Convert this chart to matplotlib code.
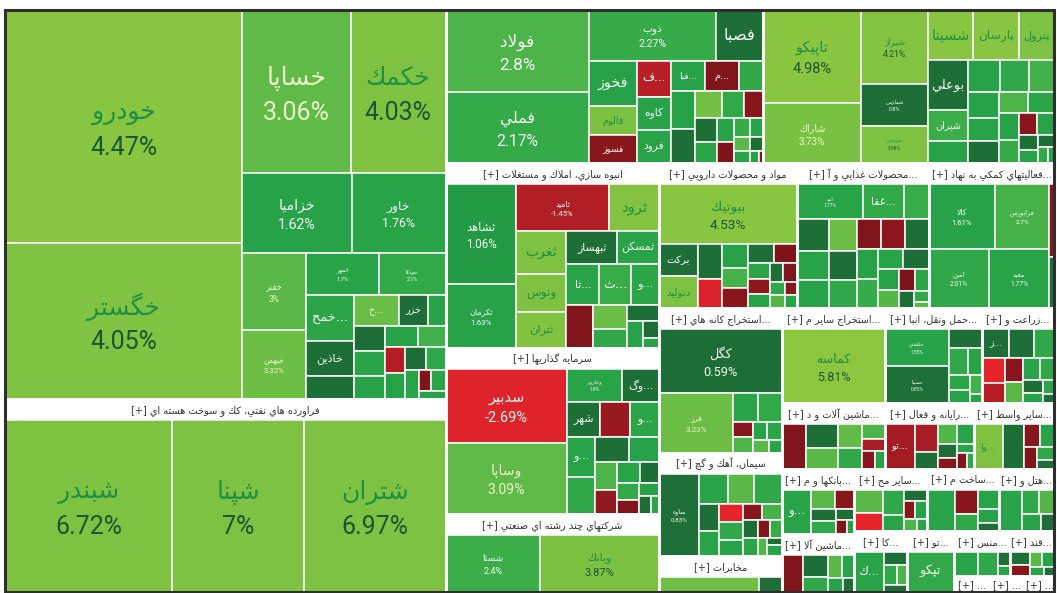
import numpy as np
import matplotlib
matplotlib.use("Agg")
import matplotlib.pyplot as plt
from matplotlib.patches import Rectangle
from matplotlib.colors import LinearSegmentedColormap

# ---------------- data ----------------
# sector headers as shown on the map ('...' = name cut), '' = header cropped away
sector_titles = [
    '', 'فراورده هاي نفتي، كك و سوخت هسته اي', '', '',
    'انبوه سازي، املاك و مستغلات', 'سرمايه گذاريها', 'شركتهاي چند رشته اي صنعتي',
    'مواد و محصولات دارويي', 'محصولات غذايي و آ...', 'فعاليتهاي كمكي به نهاد...',
    'استخراج كانه هاي...', 'سيمان، آهك و گچ', 'مخابرات',
    'استخراج ساير م...', 'حمل ونقل، انبا...', 'زراعت و...',
    'ماشين آلات و د...', 'رايانه و فعال...', 'ساير واسط...',
    'بانكها و م...', 'ماشين آلا...', 'ساير مح...', 'ساخت م...', 'هتل و...',
    'كا...', 'تو...', 'منس...', 'قند...', '...', '...', '...',
]
# sector market size (relative)
sector_sizes = [170.7, 84.9, 48.5, 44.4, 39.2, 35.4, 16.6, 19.9, 19.1, 18.1,
                17.6, 12.6, 4.4, 9.8, 9.2, 6.8, 6.7, 5.8, 5.2, 4.7, 4.2,
                4.5, 4.5, 3.4, 3.2, 2.9, 2.5, 2.0, 0.56, 0.56, 0.46]

# stocks: names, size, % change
auto_names = ['خودرو', 'خگستر', 'خساپا', 'خكمك', 'خزاميا', 'خاور', 'خفنر', 'خبهمن',
              'خمهر', 'خودكا', 'خمح...', 'خاذين', '', 'خ...', 'خزر', ''] + [''] * 13
auto_sizes = [55.2, 36.7, 17.6, 15.5, 8.7, 7.5, 4.85, 4.3, 3.07, 2.8, 2.16, 1.68, 1.1,
              1.35, 0.87, 0.54, 0.8, 0.8, 0.7, 0.7, 0.6, 0.5, 0.5, 0.5, 0.45, 0.4, 0.25, 0.3, 0.2]
auto_changes = [4.47, 4.05, 3.06, 4.03, 1.62, 1.76, 3.0, 3.32, 1.7, 2.1, 1.9, 0.8, 0.7,
                3.2, 0.7, 1.5, 0.6, 1.8, 1.6, 1.5, 2.6, -1.5, 1.4, 0.6, 2.0, 1.7, -0.4, 1.9, 1.6]

oil_names = ['شبندر', 'شپنا', 'شتران']
oil_sizes = [28.7, 22.7, 24.3]
oil_changes = [6.72, 7.0, 6.97]

metal_names = ['فولاد', 'فملي', 'ذوب', 'فصبا', 'فخوز', 'فالوم', 'فسوز', 'ف...', 'كاوه',
               'فرود', 'فبا...', 'م...', ''] + [''] * 16
metal_sizes = [11.5, 9.9, 6.25, 2.35, 2.1, 1.4, 1.3, 1.2, 1.1, 1.1, 1.0, 1.0, 0.72,
               0.9, 0.8, 0.7, 0.6, 0.5, 0.5, 0.45, 0.4, 0.35, 0.3, 0.25, 0.22, 0.2, 0.18, 0.1, 0.05]
metal_changes = [2.8, 2.17, 2.27, 0.7, 1.4, 3.8, -0.6, -1.6, 1.5, 1.7, 1.5, -0.5, 2.0,
                 1.4, 0.7, 3.5, 2.1, -0.6, 0.8, 1.9, 1.6, -0.4, 2.2, 1.5, 3.0, 1.8, 0.6, 1.3, -0.5]

chem_names = ['تاپيكو', 'شاراك', 'شيراز', 'شفارس', 'شپديس', 'شسينا', 'پارسان', 'پترول',
              'بوعلي', 'شيران', ''] + [''] * 17
chem_sizes = [9.0, 5.8, 4.9, 2.8, 2.5, 2.25, 2.25, 1.75, 2.0, 1.2, 0.9,
              1.0, 0.9, 0.8, 0.8, 0.7, 0.7, 0.6, 0.55, 0.5, 0.45, 0.4, 0.35, 0.3, 0.25, 0.2, 0.15, 0.1]
chem_changes = [4.98, 3.73, 4.21, 0.8, 3.98, 4.6, 4.6, 3.9, 0.7, 2.4, 1.6,
                1.5, 2.0, 2.6, 1.6, 1.8, 0.7, 2.8, 1.9, 1.4, 2.2, -0.6, 1.7, 0.8, 1.6, 0.6, 2.0, 1.5]

build_names = ['ثشاهد', 'ثكرمان', 'ثاميد', 'ثرود', 'ثغرب', 'وتوس', 'ثتران', 'ثبهساز',
               'ثمسكن', 'ثا...', 'ث...', 'و...'] + [''] * 7
build_sizes = [6.8, 4.3, 4.1, 2.25, 2.1, 1.8, 1.7, 1.65, 1.35, 1.3, 1.25, 1.1,
               1.1, 0.8, 0.6, 0.5, 0.4, 0.25, 0.15]
build_changes = [1.06, 1.63, -1.45, 4.2, 4.0, 4.0, 4.1, 0.8, 1.8, 1.7, 2.3, 1.9,
                 -0.5, 3.2, 2.0, 0.7, 1.6, 0.6, 1.8]

invest_names = ['سدبير', 'وساپا', 'وخارزم', 'وگ...', 'شهر', '', 'و...', 'و...'] + [''] * 12
invest_sizes = [8.6, 8.3, 1.8, 1.2, 1.1, 1.0, 0.95,
                1.1, 1.0, 0.8, 0.7, 0.6, 0.5, 0.45, 0.4, 0.35, 0.3, 0.25, 0.2, 0.15]
invest_changes = [-2.69, 3.09, 1.8, 0.7, 0.8, -1.0, 1.9,
                  1.7, 2.0, 0.7, 1.5, 2.8, -0.8, 1.8, 0.6, 2.1, -0.5, 1.6, 0.7, 1.9]

multi_names = ['شستا', 'وبانك']
multi_sizes = [92, 116]
multi_changes = [2.4, 3.87]

pharma_names = ['بيوتيك', 'بركت', 'دتوليد'] + [''] * 16
pharma_sizes = [8.0, 1.2, 1.2, 0.8, 0.7, 0.6, 0.5, 0.5, 0.45, 0.4, 0.35, 0.3, 0.3,
                0.25, 0.25, 0.2, 0.2, 0.15, 0.15]
pharma_changes = [4.53, 0.7, 3.9, 0.7, -2.5, 1.6, 2.7, -0.6, 0.8, -0.4, 1.9, -0.7, 1.5,
                  0.6, -0.5, 2.0, 2.9, -0.6, 1.7]

food_names = ['ابيد', 'غفا...', ''] + [''] * 20
food_sizes = [2.3, 1.4, 0.86, 1.0, 0.9, 0.9, 0.9, 0.8, 0.8, 0.7, 0.7, 0.7, 0.6, 0.6,
              0.5, 0.5, 0.45, 0.4, 0.35, 0.3, 0.25, 0.15, 0.1]
food_changes = [1.77, 2.1, 2.3, 0.8, 1.7, 1.6, 3.3, 0.7, 2.0, -0.5, -0.7, 0.8, 1.5, 2.2,
                1.8, 0.7, 1.6, 2.9, -0.4, 1.9, 0.6, 2.1, 3.0]

finaux_names = ['كالا', 'فرابورس', 'امين', 'مفيد', '', '']
finaux_sizes = [4.1, 3.3, 3.4, 3.4, 0.35, 0.25]
finaux_changes = [1.61, 2.7, 2.01, 1.77, -0.6, 0.7]

mining_names = ['كگل', 'فرز'] + [''] * 8
mining_sizes = [7.6, 4.25, 0.7, 0.65, 0.3, 0.3, 0.25, 0.25, 0.2, 0.15]
mining_changes = [0.59, 3.23, 1.8, 2.1, -0.6, 2.8, 1.6, 1.9, 3.0, 1.7]

cement_names = ['ساوه'] + [''] * 17
cement_sizes = [3.1, 0.8, 0.75, 0.78, 0.5, 0.45, 0.4, 0.4, 0.35, 0.3, 0.3, 0.25, 0.25,
                0.2, 0.2, 0.15, 0.1, 0.15]
cement_changes = [0.83, 1.8, 3.0, 2.0, 0.7, 1.7, -3.0, 2.0, 1.6, -0.6, 2.7, 0.8, 1.9,
                  -0.5, 2.2, 2.9, 0.6, 1.5]

telecom_names = ['', '']
telecom_sizes = [95, 22]
telecom_changes = [3.4, 0.7]

othermine_names = ['كماسه']
othermine_sizes = [1.0]
othermine_changes = [5.81]

transport_names = ['حكشتي', 'حسينا'] + [''] * 7
transport_sizes = [2.1, 2.1, 0.55, 0.45, 0.35, 0.3, 0.25, 0.2, 0.1]
transport_changes = [1.55, 0.85, 0.7, 2.0, 1.7, 1.9, 1.5, 2.6, 1.8]

agri_names = ['ز...'] + [''] * 12
agri_sizes = [0.75, 0.7, 0.55, 0.55, 0.45, 0.4, 0.35, 0.35, 0.3, 0.25, 0.2, 0.15, 0.1]
agri_changes = [0.7, 0.8, 2.0, -3.0, -1.5, -0.6, 3.0, 1.8, 2.0, 0.7, 1.6, 1.9, 0.8]

machine_names = [''] * 9
machine_sizes = [0.95, 0.7, 0.6, 0.5, 0.45, 0.3, 0.25, 0.2, 0.15]
machine_changes = [-0.5, 0.8, 3.0, 3.1, 2.0, 2.8, -1.3, -0.6, 1.6]

computer_names = ['تو...'] + [''] * 9
computer_sizes = [1.25, 0.6, 0.35, 0.35, 0.3, 0.25, 0.2, 0.15, 0.15, 0.1]
computer_changes = [-1.2, -1.3, 0.7, 2.9, 1.8, 0.7, -0.6, 1.7, -0.5, 2.0]

otherfin_names = ['وا...'] + [''] * 6
otherfin_sizes = [1.2, 0.9, 0.35, 0.3, 0.25, 0.2, 0.15]
otherfin_changes = [4.0, 0.7, -0.6, 1.8, -0.5, 2.0, 0.8]

banks_names = ['و...'] + [''] * 7
banks_sizes = [1.3, 0.45, 0.35, 0.3, 0.3, 0.2, 0.15, 0.1]
banks_changes = [1.8, 3.0, -0.6, 0.7, 2.0, 0.8, -0.5, 1.6]

machine2_names = [''] * 7
machine2_sizes = [0.75, 0.5, 0.35, 0.3, 0.25, 0.2, 0.15]
machine2_changes = [-0.5, 0.7, 2.0, 3.0, 1.7, 1.5, 0.8]

otherprod_names = [''] * 9
otherprod_sizes = [0.65, 0.5, 0.5, 0.3, 0.25, 0.2, 0.2, 0.15, 0.1]
otherprod_changes = [3.0, -3.0, 2.0, 1.7, 0.7, -0.6, 1.6, 2.8, 1.9]

construct_names = [''] * 6
construct_sizes = [1.0, 0.5, 0.35, 0.35, 0.25, 0.15]
construct_changes = [1.8, -0.6, 2.0, 1.7, 1.5, 0.7]

hotel_names = [''] * 5
hotel_sizes = [0.9, 0.4, 0.35, 0.3, 0.2]
hotel_changes = [1.8, 2.0, 2.9, 1.6, 0.8]

ka_names = ['ك...'] + [''] * 4
ka_sizes = [1.2, 0.3, 0.25, 0.2, 0.15]
ka_changes = [1.8, 0.8, 2.0, 2.8, 0.7]

tu_names = ['تپكو']
tu_sizes = [1.0]
tu_changes = [2.05]

mns_names = [''] * 4
mns_sizes = [0.5, 0.4, 0.15, 0.1]
mns_changes = [1.8, 2.0, 0.7, 1.6]

ghand_names = [''] * 6
ghand_sizes = [0.3, 0.25, 0.2, 0.2, 0.15, 0.1]
ghand_changes = [0.8, -0.6, 3.0, 1.8, 1.6, 0.7]

sector_names = [auto_names, oil_names, metal_names, chem_names, build_names, invest_names,
                multi_names, pharma_names, food_names, finaux_names, mining_names,
                cement_names, telecom_names, othermine_names, transport_names, agri_names,
                machine_names, computer_names, otherfin_names, banks_names, machine2_names,
                otherprod_names, construct_names, hotel_names, ka_names, tu_names,
                mns_names, ghand_names, [], [], []]
sector_stock_sizes = [auto_sizes, oil_sizes, metal_sizes, chem_sizes, build_sizes, invest_sizes,
                      multi_sizes, pharma_sizes, food_sizes, finaux_sizes, mining_sizes,
                      cement_sizes, telecom_sizes, othermine_sizes, transport_sizes, agri_sizes,
                      machine_sizes, computer_sizes, otherfin_sizes, banks_sizes, machine2_sizes,
                      otherprod_sizes, construct_sizes, hotel_sizes, ka_sizes, tu_sizes,
                      mns_sizes, ghand_sizes, [], [], []]
sector_changes = [auto_changes, oil_changes, metal_changes, chem_changes, build_changes,
                  invest_changes, multi_changes, pharma_changes, food_changes, finaux_changes,
                  mining_changes, cement_changes, telecom_changes, othermine_changes,
                  transport_changes, agri_changes, machine_changes, computer_changes,
                  otherfin_changes, banks_changes, machine2_changes, otherprod_changes,
                  construct_changes, hotel_changes, ka_changes, tu_changes, mns_changes,
                  ghand_changes, [], [], []]

# ---------------- layout (split trees) ----------------
# 'h' = side by side, 'v' = stacked, 's' = squarified, int = leaf index
top_layout = ('h', [
    ('v', [0, 1]),
    ('v', [
        ('h', [2, 3]),
        ('h', [
            ('v', [4, 5, 6]),
            ('v', [
                ('h', [7, 8, 9]),
                ('h', [
                    ('v', [10, 11, 12]),
                    ('v', [
                        ('h', [13, 14, 15]),
                        ('h', [16, 17, 18]),
                        ('h', [
                            ('v', [19, 20]),
                            ('v', [
                                ('h', [21, 22, 23]),
                                ('h', [24, 25, ('v', [('h', [26, 27]), ('h', [28, 29, 30])])]),
                            ]),
                        ]),
                    ]),
                ]),
            ]),
        ]),
    ]),
])

sector_layouts = {
    0: ('h', [('v', [0, 1]),
              ('v', [('h', [2, 3]), ('h', [4, 5]),
                     ('h', [('v', [6, 7]),
                            ('v', [('h', [8, 9]),
                                   ('h', [('v', [10, 11, 12]),
                                          ('v', [('h', [13, 14, 15]),
                                                 ('s', list(range(16, 29)))])])])])])]),
    1: ('h', [0, 1, 2]),
    2: ('h', [('v', [0, 1]),
              ('v', [('h', [2, 3]),
                     ('h', [('v', [4, 5, 6]), ('v', [7, 8, 9]),
                            ('v', [('h', [10, 11, 12]), ('s', list(range(13, 29)))])])])]),
    3: ('h', [('v', [0, 1]), ('v', [2, 3, 4]),
              ('v', [('h', [5, 6, 7]),
                     ('h', [('v', [8, 9, 10]), ('s', list(range(11, 28)))])])]),
    4: ('h', [('v', [0, 1]),
              ('v', [('h', [2, 3]),
                     ('h', [('v', [4, 5, 6]),
                            ('v', [('h', [7, 8]), ('h', [9, 10, 11]),
                                   ('s', list(range(12, 19)))])])])]),
    5: ('h', [('v', [0, 1]),
              ('v', [('h', [2, 3]), ('h', [4, 5, 6]), ('s', list(range(7, 20)))])]),
    6: ('h', [0, 1]),
    7: ('v', [0, ('h', [('v', [1, 2]), ('s', list(range(3, 19)))])]),
    8: ('v', [('h', [0, 1, 2]), ('s', list(range(3, 23)))]),
    9: ('h', [('v', [('h', [0, 1]), ('h', [2, 3])]), ('v', [4, 5])]),
    10: ('v', [0, ('h', [1, ('s', list(range(2, 10)))])]),
    11: ('h', [0, ('v', [('h', [1, 2, 3]), ('s', list(range(4, 18)))])]),
    12: ('h', [0, 1]),
    14: ('h', [('v', [0, 1]), ('s', list(range(2, 9)))]),
    15: ('v', [('h', [0, 1, 2]), ('s', list(range(3, 13)))]),
}

HEADER_H = 21
FA = ['DejaVu Sans']
NUM = ['Roboto', 'DejaVu Sans']

# ---------------- persian shaping (no bidi engine available) ----------------
AR_FORMS = {
    'ا': (0xFE8D, 0xFE8E, None, None), 'آ': (0xFE81, 0xFE82, None, None),
    'ب': (0xFE8F, 0xFE90, 0xFE91, 0xFE92), 'پ': (0xFB56, 0xFB57, 0xFB58, 0xFB59),
    'ت': (0xFE95, 0xFE96, 0xFE97, 0xFE98), 'ث': (0xFE99, 0xFE9A, 0xFE9B, 0xFE9C),
    'ج': (0xFE9D, 0xFE9E, 0xFE9F, 0xFEA0), 'چ': (0xFB7A, 0xFB7B, 0xFB7C, 0xFB7D),
    'ح': (0xFEA1, 0xFEA2, 0xFEA3, 0xFEA4), 'خ': (0xFEA5, 0xFEA6, 0xFEA7, 0xFEA8),
    'د': (0xFEA9, 0xFEAA, None, None), 'ذ': (0xFEAB, 0xFEAC, None, None),
    'ر': (0xFEAD, 0xFEAE, None, None), 'ز': (0xFEAF, 0xFEB0, None, None),
    'ژ': (0xFB8A, 0xFB8B, None, None),
    'س': (0xFEB1, 0xFEB2, 0xFEB3, 0xFEB4), 'ش': (0xFEB5, 0xFEB6, 0xFEB7, 0xFEB8),
    'ص': (0xFEB9, 0xFEBA, 0xFEBB, 0xFEBC), 'ض': (0xFEBD, 0xFEBE, 0xFEBF, 0xFEC0),
    'ط': (0xFEC1, 0xFEC2, 0xFEC3, 0xFEC4), 'ظ': (0xFEC5, 0xFEC6, 0xFEC7, 0xFEC8),
    'ع': (0xFEC9, 0xFECA, 0xFECB, 0xFECC), 'غ': (0xFECD, 0xFECE, 0xFECF, 0xFED0),
    'ف': (0xFED1, 0xFED2, 0xFED3, 0xFED4), 'ق': (0xFED5, 0xFED6, 0xFED7, 0xFED8),
    'ك': (0xFED9, 0xFEDA, 0xFEDB, 0xFEDC), 'گ': (0xFB92, 0xFB93, 0xFB94, 0xFB95),
    'ل': (0xFEDD, 0xFEDE, 0xFEDF, 0xFEE0), 'م': (0xFEE1, 0xFEE2, 0xFEE3, 0xFEE4),
    'ن': (0xFEE5, 0xFEE6, 0xFEE7, 0xFEE8), 'ه': (0xFEE9, 0xFEEA, 0xFEEB, 0xFEEC),
    'و': (0xFEED, 0xFEEE, None, None), 'ي': (0xFEF1, 0xFEF2, 0xFEF3, 0xFEF4),
}


def joins_next(ch):
    return ch in AR_FORMS and AR_FORMS[ch][2] is not None


def shape(text):
    out = []
    i, n = 0, len(text)
    while i < n:
        c = text[i]
        if c not in AR_FORMS:
            out.append(c)
            i += 1
            continue
        jp = i > 0 and joins_next(text[i - 1])
        # lam-alef ligature
        if c == 'ل' and i + 1 < n and text[i + 1] in ('ا', 'آ'):
            lig = (0xFEFB, 0xFEFC) if text[i + 1] == 'ا' else (0xFEF5, 0xFEF6)
            out.append(chr(lig[1] if jp else lig[0]))
            i += 2
            continue
        jn = joins_next(c) and i + 1 < n and text[i + 1] in AR_FORMS
        iso, fin, ini, med = AR_FORMS[c]
        code = med if (jp and jn) else fin if jp else ini if jn else iso
        out.append(chr(code))
        i += 1
    return ''.join(out)


def rtl(text):
    if text.endswith('...'):
        return shape(text[:-3].strip())[::-1] + '...'
    return shape(text)[::-1]


# ---------------- treemap helpers ----------------
def worst(row, side):
    s = sum(row)
    return max(max(side * side * r / (s * s), s * s / (side * side * r)) for r in row)


def squarify(values, x, y, w, h):
    total = float(sum(values))
    areas = [v * w * h / total for v in values]
    rects = []
    i = 0
    while i < len(areas):
        side = min(w, h)
        row = [areas[i]]
        i += 1
        while i < len(areas) and worst(row + [areas[i]], side) <= worst(row, side):
            row.append(areas[i])
            i += 1
        s = sum(row)
        if w >= h:
            cw = s / h
            yy = y
            for a in row:
                rects.append((x, yy, cw, a / cw))
                yy += a / cw
            x += cw
            w -= cw
        else:
            rh = s / w
            xx = x
            for a in row:
                rects.append((xx, y, a / rh, rh))
                xx += a / rh
            y += rh
            h -= rh
    return rects


def weight(node, sizes):
    if isinstance(node, int):
        return sizes[node]
    return sum(weight(k, sizes) for k in node[1])


def place(node, sizes, x, y, w, h, out):
    if isinstance(node, int):
        out[node] = (x, y, w, h)
        return
    kind, kids = node
    ws = [weight(k, sizes) for k in kids]
    tot = sum(ws)
    if kind == 's':
        for k, r in zip(kids, squarify(ws, x, y, w, h)):
            place(k, sizes, *r, out)
    elif kind == 'h':
        for k, wk in zip(kids, ws):
            cw = w * wk / tot
            place(k, sizes, x, y, cw, h, out)
            x += cw
    else:
        for k, wk in zip(kids, ws):
            ch = h * wk / tot
            place(k, sizes, x, y, w, ch, out)
            y += ch


# colour scale of the market map
chg_stops = [-3.0, -2.0, -1.2, -0.01, 0.0, 0.95, 1.05, 1.8, 2.5, 2.9, 3.2, 3.8, 4.5, 6.0, 6.5, 7.0]
chg_cols = ['#e6242b', '#cd2128', '#a31c23', '#6a1117', '#1a6934', '#1e7038', '#24a047',
            '#29a348', '#3eb04a', '#50b548', '#6abd46', '#7bc142', '#88c540', '#8dc63f',
            '#7ec242', '#7dc242']
cmap = LinearSegmentedColormap.from_list(
    'tse', [((v + 3) / 10.0, c) for v, c in zip(chg_stops, chg_cols)])


def change_color(v):
    return cmap((np.clip(v, -3, 7) + 3) / 10.0)


def text_colors(v):
    if v >= 3.75:
        return '#1f8f46', '#1b5534'
    if v >= 2.9:
        return '#eef5c8', '#eef5c8'
    return '#f5faf2', '#f5faf2'


def draw_label(ax, rect, name, chg):
    x, y, w, h = rect
    if not name or w < 8 or h < 8:
        return
    cx, cy = x + w / 2, y + h / 2
    ncol, pcol = text_colors(chg)
    shown = rtl(name)
    if (w >= 55 and h >= 30) or w * h >= 2900:
        fs = float(np.interp(np.sqrt(w * h), [50, 80, 95, 110, 120], [3.5, 7.5, 10.5, 12.5, 18.0]))
        pct = f"{chg:g}%"
        fs = min(fs, 0.72 * w / (0.62 * len(pct)), 0.72 * h / 2.6)
        fpx = fs / 0.72
        ax.text(cx, cy - 0.55 * fpx, shown, fontsize=fs, color=ncol,
                ha='center', va='center', family=FA)
        ax.text(cx, cy + 0.85 * fpx, pct, fontsize=fs, color=pcol,
                ha='center', va='center', family=NUM)
    else:
        fpx = min(0.32 * h, 1.6 * w / len(name), 18)
        ax.text(cx, cy, shown, fontsize=fpx * 0.72, color=ncol,
                ha='center', va='center', family=FA)


# ---------------- drawing ----------------
fig = plt.figure(figsize=(10.57, 5.93), dpi=100, facecolor='white')
ax = fig.add_axes([0, 0, 1, 1])
ax.set_xlim(0, 1057)
ax.set_ylim(593, 0)
ax.axis('off')

sec_rects = {}
place(top_layout, sector_sizes, 5, 10, 1049, 582, sec_rects)

for s, title in enumerate(sector_titles):
    x, y, w, h = sec_rects[s]
    hh = min(HEADER_H, h) if title else 0
    if hh:
        ax.add_patch(Rectangle((x, y), w, hh, facecolor='white', edgecolor='none'))
        ax.text(x + w / 2, y + hh / 2 + 1, '[+] ' + rtl(title), fontsize=7, color='#333333',
                ha='center', va='center', family=FA)
    names = sector_names[s]
    if names and h - hh > 2:
        sizes = sector_stock_sizes[s]
        chg = sector_changes[s]
        layout = sector_layouts.get(s, ('s', list(range(len(sizes)))))
        if len(sizes) == 1:
            layout = 0
        cells = {}
        place(layout, sizes, x, y + hh, w, h - hh, cells)
        for i, r in cells.items():
            ax.add_patch(Rectangle(r[:2], r[2], r[3], facecolor=change_color(chg[i]),
                                   edgecolor='white', lw=1.1))
            draw_label(ax, r, names[i], chg[i])
    ax.add_patch(Rectangle((x, y), w, h, fill=False, edgecolor='white', lw=1.8, zorder=2))

# outer frame
ax.add_patch(Rectangle((5, 10), 1049, 582, fill=False, edgecolor='#2e2e2e', lw=2.2, zorder=4))

fig.savefig('out.png', dpi=100, facecolor='white')
